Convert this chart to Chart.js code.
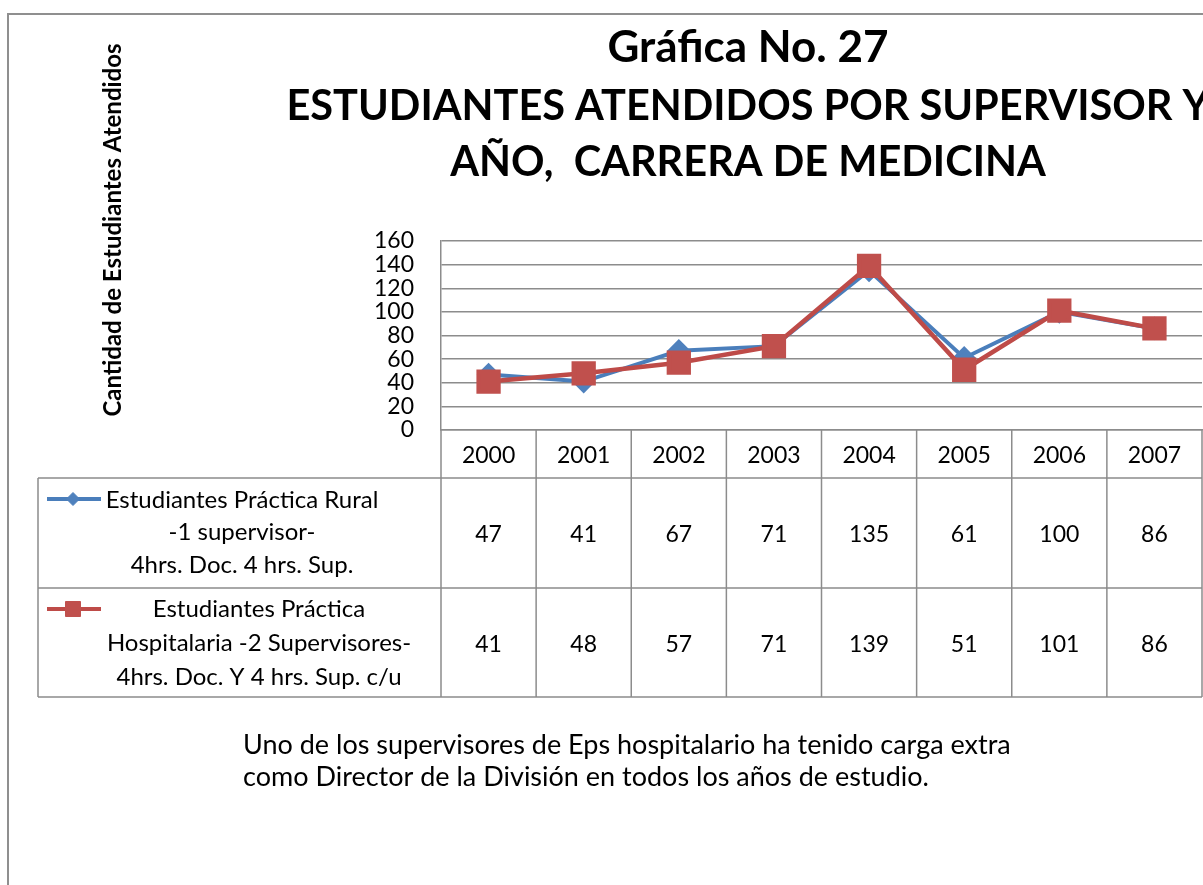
<!DOCTYPE html>
<html>
<head>
<meta charset="utf-8">
<title>Gráfica No. 27</title>
<script src="https://cdn.jsdelivr.net/npm/chart.js@4.4.1/dist/chart.umd.min.js"></script>
<style>
  html, body { margin: 0; padding: 0; background: #fff; }
  #wrap { width: 1203px; height: 885px; }
</style>
</head>
<body>
<div id="wrap"><canvas id="grafica" width="1203" height="885"></canvas></div>
<script>
/* -------------------------------
   DATA
--------------------------------*/
const years = ["2000", "2001", "2002", "2003", "2004", "2005", "2006", "2007"];
const ruralValues = [47, 41, 67, 71, 135, 61, 100, 86];
const hospitalValues = [41, 48, 57, 71, 139, 51, 101, 86];
const yMin = 0;
const yMax = 160;
const yStep = 20;

const ruralName = ["Estudiantes Práctica Rural", "-1 supervisor-", "4hrs. Doc. 4 hrs. Sup."];
const hospitalName = ["Estudiantes Práctica", "Hospitalaria -2 Supervisores-", "4hrs. Doc. Y 4 hrs. Sup. c/u"];
const titleLines = ["Gráfica No. 27", "ESTUDIANTES ATENDIDOS POR SUPERVISOR Y", "AÑO,  CARRERA DE MEDICINA"];
const yAxisTitle = "Cantidad de Estudiantes Atendidos";
const noteLines = [
  "Uno de los supervisores de Eps hospitalario ha tenido carga extra",
  "como Director de la División en todos los años de estudio."
];

/* -------------------------------
   LOOK
--------------------------------*/
const FONT = "Lato, 'Open Sans', sans-serif";
const GRID = "#8c8c8c";
const BLUE = "#4a7ebb";
const RED = "#be4b48";

// table rows below the plot (px)
const headerH = 48;
const rowH = [110, 109];
const legendLeft = 38;

/* -------------------------------
   TEXT + DATA TABLE PLUGIN
--------------------------------*/
const decorPlugin = {
  id: "decor",
  beforeDraw(chart) {
    const ctx = chart.ctx;
    ctx.save();
    ctx.fillStyle = "#ffffff";
    ctx.fillRect(0, 0, chart.width, chart.height);
    // outer frame (only top and left are visible)
    ctx.strokeStyle = "#8f8f8f";
    ctx.lineWidth = 2;
    ctx.beginPath();
    ctx.moveTo(8, chart.height);
    ctx.lineTo(8, 14);
    ctx.lineTo(chart.width, 14);
    ctx.stroke();
    ctx.restore();
  },
  afterDraw(chart) {
    const ctx = chart.ctx;
    const xs = chart.scales.x;
    const area = chart.chartArea;
    const step = (xs.right - xs.left) / years.length;

    ctx.save();
    ctx.fillStyle = "#000";
    ctx.textAlign = "center";
    ctx.textBaseline = "middle";

    // title
    ctx.font = "bold 44px " + FONT;
    ctx.fillText(titleLines[0], 748, 48);
    ctx.font = "bold 41.5px " + FONT;
    ctx.fillText(titleLines[1], 748, 107);
    ctx.fillText(titleLines[2], 748, 163);

    // y axis title
    ctx.save();
    ctx.translate(113, 230);
    ctx.rotate(-Math.PI / 2);
    ctx.font = "bold 24px " + FONT;
    ctx.fillText(yAxisTitle, 0, 0);
    ctx.restore();

    // footnote
    ctx.textAlign = "left";
    ctx.font = "27px " + FONT;
    ctx.fillText(noteLines[0], 243, 745);
    ctx.fillText(noteLines[1], 243, 777);

    // data table
    const top = area.bottom;
    const r1 = top + headerH;
    const r2 = r1 + rowH[0];
    const r3 = r2 + rowH[1];

    ctx.strokeStyle = GRID;
    ctx.lineWidth = 1.5;
    ctx.beginPath();
    [r1, r2, r3].forEach(y => { ctx.moveTo(legendLeft, y); ctx.lineTo(xs.right, y); });
    ctx.moveTo(legendLeft, r1); ctx.lineTo(legendLeft, r3);
    for (let i = 0; i <= years.length; i++) {
      const bx = xs.left + i * step;
      ctx.moveTo(bx, top); ctx.lineTo(bx, r3);
    }
    ctx.stroke();

    ctx.textAlign = "center";
    ctx.font = "23px " + FONT;
    years.forEach((yr, i) => {
      const cx = xs.getPixelForValue(i);
      ctx.fillText(yr, cx, (top + r1) / 2 + 2);
      ctx.fillText(String(ruralValues[i]), cx, (r1 + r2) / 2 + 2);
      ctx.fillText(String(hospitalValues[i]), cx, (r2 + r3) / 2 + 2);
    });

    // series names
    ctx.font = "24px " + FONT;
    ruralName.forEach((t, i) => ctx.fillText(t, 242, r1 + 22 + i * 32.5));
    hospitalName.forEach((t, i) => ctx.fillText(t, 259, r2 + 21 + i * 34));

    // legend keys
    const keys = [[chart.data.datasets[0], r1 + 21], [chart.data.datasets[1], r2 + 21]];
    keys.forEach(([ds, ky]) => {
      ctx.strokeStyle = ds.borderColor;
      ctx.lineWidth = 4;
      ctx.beginPath();
      ctx.moveTo(47, ky); ctx.lineTo(101, ky);
      ctx.stroke();
      ctx.fillStyle = ds.pointBackgroundColor;
      ctx.strokeStyle = ds.pointBorderColor;
      ctx.lineWidth = 1;
      Chart.helpers.drawPoint(ctx, {
        pointStyle: ds.pointStyle,
        radius: ds.pointStyle === "rect" ? 10.6 : 6.5,
        borderWidth: 1
      }, 73, ky);
    });
    ctx.restore();
  }
};

/* -------------------------------
   CHART
--------------------------------*/
const ctx = document.getElementById("grafica");

new Chart(ctx, {
  type: "line",
  data: {
    labels: years,
    datasets: [
      {
        label: ruralName.join(" "),
        data: ruralValues,
        borderColor: BLUE,
        backgroundColor: BLUE,
        pointBackgroundColor: "#4f81bd",
        pointBorderColor: "#4f81bd",
        borderWidth: 4,
        pointStyle: "rectRot",
        pointRadius: 9,
        tension: 0,
        order: 1
      },
      {
        label: hospitalName.join(" "),
        data: hospitalValues,
        borderColor: RED,
        backgroundColor: RED,
        pointBackgroundColor: "#c0504d",
        pointBorderColor: "#c0504d",
        borderWidth: 4.5,
        pointStyle: "rect",
        pointRadius: 14,
        tension: 0,
        order: 0
      }
    ]
  },
  options: {
    responsive: false,
    devicePixelRatio: 1,
    animation: false,
    layout: { autoPadding: false, padding: { left: 0, top: 241, right: 1, bottom: 455 } },
    plugins: {
      legend: { display: false },
      title: { display: false },
      tooltip: { enabled: false }
    },
    scales: {
      x: {
        type: "category",
        offset: true,
        grid: { display: false },
        ticks: { display: false },
        border: { display: true, color: GRID, width: 1.5 },
        afterFit: s => { s.height = 0; }
      },
      y: {
        min: yMin,
        max: yMax,
        ticks: {
          stepSize: yStep,
          autoSkip: false,
          color: "#000",
          padding: 27,
          font: { family: FONT, size: 23 }
        },
        grid: { color: GRID, lineWidth: 1.5, drawTicks: false },
        border: { display: true, color: GRID, width: 1.5 },
        afterFit: s => { s.width = 441; }
      }
    }
  },
  plugins: [decorPlugin]
});
</script>
</body>
</html>
